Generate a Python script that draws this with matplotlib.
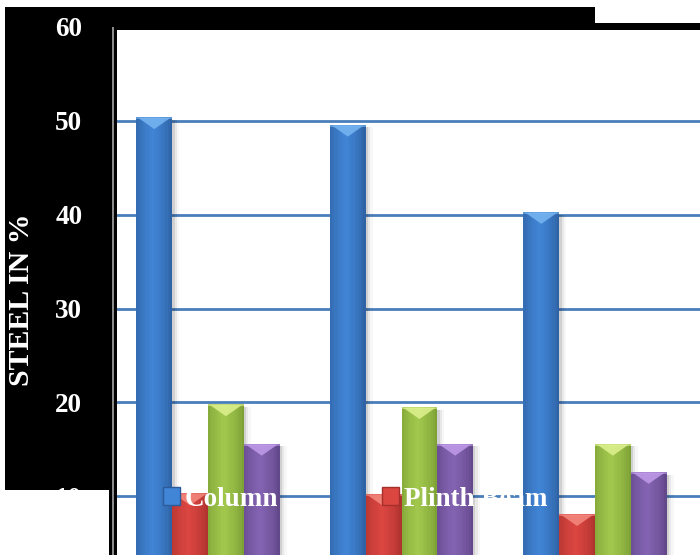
import matplotlib
matplotlib.use("Agg")
import matplotlib.pyplot as plt
import numpy as np
from matplotlib.patches import Rectangle, Polygon, Patch
from matplotlib.colors import to_rgb

# ---------------- data ----------------
categories = ["Case 1", "Case 2", "Case 3"]
series_names = ["Column", "Plinth Beam", "Beam", "Slab"]
column = [50.4, 49.6, 40.3]
plinth_beam = [10.3, 10.2, 8.1]
beam = [19.8, 19.5, 15.6]
slab = [15.6, 15.6, 12.6]
y_ticks = [10, 20, 30, 40, 50, 60]

# ---------------- styling ----------------
W, H = 700, 555
FONT = "Liberation Serif"
# (edge, centre, top bevel)
palette = [
    ("#2b5b9a", "#4185d6", "#78b6f2"),
    ("#a52f2b", "#dc4641", "#f58a80"),
    ("#75982f", "#a2c84e", "#dff290"),
    ("#5c4283", "#8464b2", "#c29ceb"),
]


def px(x, y):
    """pixel position (from top-left) -> figure fraction"""
    return x / W, 1 - y / H


fig = plt.figure(figsize=(W / 100, H / 100), dpi=100, facecolor="white")

# black header band and left panel behind the plot
for x0, y0, x1, y1 in [(5, 7, 595, 30), (595, 23, 700, 30), (5, 7, 110, 490)]:
    fx, fy = px(x0, y1)
    fig.patches.append(Rectangle((fx, fy), (x1 - x0) / W, (y1 - y0) / H,
                                 transform=fig.transFigure, facecolor="black",
                                 edgecolor="none", zorder=-5))

# dark double rule at the value axis
fx, fy = px(109, 555)
fig.patches.append(Rectangle((fx, fy), 8 / W, (555 - 27) / H, transform=fig.transFigure,
                             facecolor="black", edgecolor="none", zorder=-4))
fx, fy = px(112, 555)
fig.patches.append(Rectangle((fx, fy), 2.5 / W, (555 - 27) / H, transform=fig.transFigure,
                             facecolor="#8a8a8a", edgecolor="none", zorder=-3))

# axes: 0..60 runs from y=590px to y=27px, so the bottom is cut off
left, top, bottom = 117, 27, 590
ax_l, ax_b = px(left, bottom)
ax = fig.add_axes([ax_l, ax_b, (W - left) / W, (bottom - top) / H])
ax.set_facecolor("none")
for s in ax.spines.values():
    s.set_visible(False)

group_px = 193.5
x_lo = -91 / group_px
x_hi = x_lo + (W - left) / group_px
y_px = (bottom - top) / 60.0  # pixels per percent

for lvl in y_ticks[:-1]:
    ax.axhline(lvl, color="#4a7ebb", linewidth=2.0, zorder=0)

values = [column, plinth_beam, beam, slab]
x = np.arange(len(categories))
bw = 0.185
bevel = 12 / y_px  # height of the light chevron on each bar top
rim = 2 / y_px
n_strips = 16

for i, (vals, (c_edge, c_mid, c_top)) in enumerate(zip(values, palette)):
    xs = x + (i - 1.5) * bw
    bars = ax.bar(xs, vals, width=bw, color=c_mid, edgecolor="none", zorder=2)
    e, m = np.array(to_rgb(c_edge)), np.array(to_rgb(c_mid))
    t = (np.arange(n_strips) + 0.5) / n_strips
    prof = np.clip(1 - np.abs(t - 0.45) / 0.55, 0, 1) ** 0.6
    for b in bars:
        x0, w, h = b.get_x(), b.get_width(), b.get_height()
        # soft shadow on the right
        for k, a in [(0.012, 0.10), (0.024, 0.06), (0.036, 0.03)]:
            ax.add_patch(Rectangle((x0 + k, 0), w, h - 0.3, facecolor="black",
                                   alpha=a, edgecolor="none", zorder=1))
        # rounded look: vertical strips from dark edge to light centre
        sw = w / n_strips
        for j, p in enumerate(prof):
            ax.add_patch(Rectangle((x0 + j * sw, 0), sw * 1.05, h,
                                   facecolor=e + (m - e) * p, edgecolor="none",
                                   zorder=3))
        # lighter rim and chevron on the bar top
        ax.add_patch(Rectangle((x0, h - rim), w, rim, facecolor=c_top,
                               edgecolor="none", alpha=0.6, zorder=4))
        ax.add_patch(Polygon([(x0 + 0.06 * w, h - rim * 0.5), (x0 + 0.94 * w, h - rim * 0.5),
                              (x0 + 0.5 * w, h - bevel)],
                             closed=True, facecolor=c_top, edgecolor="none",
                             alpha=0.85, zorder=4))

ax.set_xlim(x_lo, x_hi)
ax.set_ylim(0, 60)
ax.set_xticks([])
ax.set_yticks(y_ticks)
ax.set_yticklabels([str(v) for v in y_ticks], color="white", fontsize=19.5,
                   fontweight="bold", fontfamily=FONT)
ax.tick_params(axis="y", length=0, pad=25)

fig.text(*px(22, 300), "STEEL IN %", rotation=90, ha="center", va="center",
         color="white", fontsize=21.5, fontweight="bold", fontfamily=FONT)

handles = [Patch(facecolor=palette[0][1], edgecolor=palette[0][0]),
           Patch(facecolor=palette[1][1], edgecolor=palette[1][0])]
leg = ax.legend(handles, series_names[:2], loc="center left",
                bbox_to_anchor=px(163, 499), bbox_transform=fig.transFigure,
                ncol=2, frameon=False, borderpad=0, borderaxespad=0,
                handlelength=0.63, handleheight=0.63, handletextpad=0.17,
                columnspacing=3.85,
                prop={"family": FONT, "weight": "bold", "size": 19.5})
for txt in leg.get_texts():
    txt.set_color("white")

fig.savefig("out.png", dpi=100, facecolor="white")
